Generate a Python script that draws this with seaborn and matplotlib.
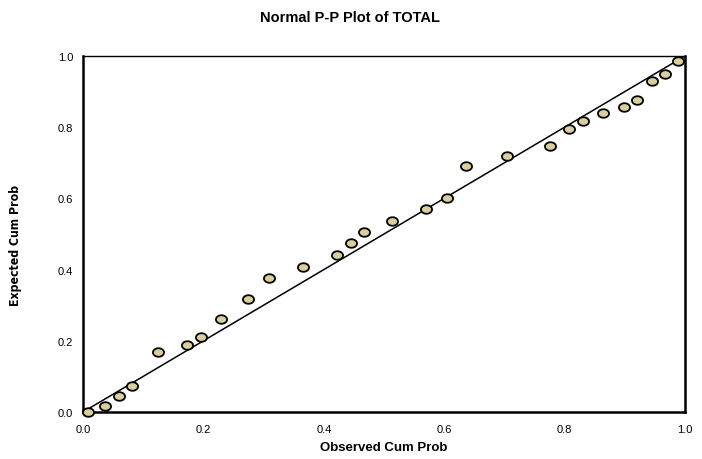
import numpy as np
import pandas as pd
import matplotlib
matplotlib.use("Agg")
import matplotlib.pyplot as plt
from matplotlib.path import Path
from matplotlib import font_manager
import seaborn as sns

observed = [0.008, 0.037, 0.060, 0.081, 0.125, 0.173, 0.196, 0.229, 0.274, 0.309,
            0.365, 0.422, 0.445, 0.467, 0.513, 0.569, 0.604, 0.637, 0.705, 0.775,
            0.808, 0.830, 0.864, 0.899, 0.921, 0.945, 0.966, 0.989]
expected = [0.000, 0.017, 0.045, 0.073, 0.169, 0.188, 0.211, 0.261, 0.317, 0.376,
            0.407, 0.441, 0.475, 0.506, 0.537, 0.570, 0.601, 0.692, 0.720, 0.746,
            0.795, 0.818, 0.839, 0.858, 0.876, 0.931, 0.949, 0.985]
ref_x = [0.0, 1.0]
ref_y = [0.0, 1.0]
ticks = [0.0, 0.2, 0.4, 0.6, 0.8, 1.0]
tick_labels = ["0.0", "0.2", "0.4", "0.6", "0.8", "1.0"]

sns.set_style("white")
plt.rcParams["font.family"] = ["Liberation Sans", "DejaVu Sans"]
plt.rcParams["text.color"] = "black"
plt.rcParams["axes.labelcolor"] = "black"

# look for a condensed bold face for the y label
narrow_fp = None
for f in font_manager.fontManager.ttflist:
    n = f.name.lower()
    if ("narrow" in n or "condensed" in n or f.stretch in ("condensed", 600, "semi-condensed")) \
            and f.weight in ("bold", 700):
        narrow_fp = font_manager.FontProperties(fname=f.fname)
        break
if narrow_fp is None:
    for f in font_manager.fontManager.ttflist:
        if "condensed" in f.fname.lower() and "bold" in f.fname.lower():
            narrow_fp = font_manager.FontProperties(fname=f.fname)
            break

fig = plt.figure(figsize=(7.02, 4.60), dpi=100)
ax = fig.add_axes([83/702, 47/460, 602/702, 356/460])

df = pd.DataFrame({"obs": observed, "exp": expected})
ref = pd.DataFrame({"x": ref_x, "y": ref_y})

sns.lineplot(data=ref, x="x", y="y", color="black", linewidth=1.1, ax=ax, zorder=2)

t = np.linspace(0, 2*np.pi, 41)
ell = Path(np.column_stack([1.3*np.cos(t), np.sin(t)]), closed=True)
sns.scatterplot(data=df, x="obs", y="exp", marker=ell, s=64, color="#d8cf9c",
                edgecolor="black", linewidth=1.3, ax=ax, zorder=3, clip_on=False)

ax.set_xlim(0, 1)
ax.set_ylim(0, 1)
ax.set_xticks(ticks)
ax.set_xticklabels(tick_labels)
ax.set_yticks(ticks)
ax.set_yticklabels(tick_labels)
ax.tick_params(axis="both", which="major", direction="out", length=5, width=1,
               color="black", labelsize=8, labelcolor="black")
ax.tick_params(axis="x", pad=4)
ax.tick_params(axis="y", pad=2)

for side in ["left", "bottom", "right"]:
    ax.spines[side].set_linewidth(1.8)
    ax.spines[side].set_color("black")
ax.spines["top"].set_linewidth(1.0)
ax.spines["top"].set_color("black")

ax.set_xlabel("Observed Cum Prob", fontsize=9.5, fontweight="bold", color="black")
ax.xaxis.set_label_coords(0.5, -(448 - 413) / 356, transform=ax.transAxes)
ax.xaxis.label.set_va("center")

if narrow_fp is not None:
    ylab = ax.set_ylabel("Expected Cum Prob", fontproperties=narrow_fp, color="black")
    ylab.set_fontsize(8.8)
else:
    ylab = ax.set_ylabel("Expected Cum Prob", fontsize=9, fontweight="bold", color="black")
ax.yaxis.set_label_coords(-(83 - 16) / 602, (413 - 245) / 356, transform=ax.transAxes)
ylab.set_va("center")

fig.text(350/702, 1 - 18/460, "Normal P-P Plot of TOTAL", ha="center", va="center",
         fontsize=10.5, fontweight="bold", color="black")

fig.savefig("out.png", dpi=100)
